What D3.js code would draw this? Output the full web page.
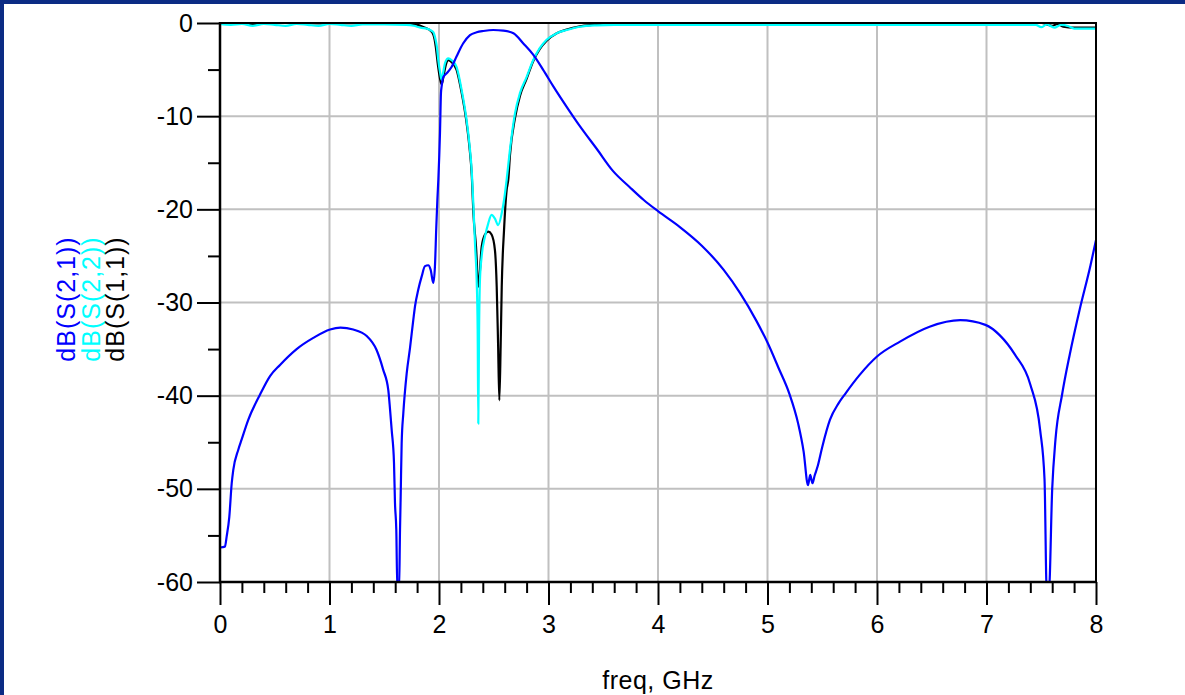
<!DOCTYPE html>
<html lang="en">
<head>
  <meta charset="UTF-8">
  <title>S-parameters</title>
  <script src="https://d3js.org/d3.v7.min.js"></script>
  <style>
    body { margin: 0; background: #fff; }
    text { font-family: "Liberation Sans", Arial, sans-serif; }
  </style>
</head>
<body>
<svg id="chart" width="1185" height="695"></svg>

<script>
// ---- data: [freq GHz, dB] ----
const s21 = [
  [0, -56.3], [0.045, -56.2], [0.061, -55.1], [0.085, -53], [0.107, -49.4], [0.121, -48],
  [0.167, -45.8], [0.198, -44.7], [0.258, -42.6], [0.365, -39.9], [0.457, -37.9], [0.548, -36.7],
  [0.70, -35.0], [0.852, -33.8], [1.005, -32.9], [1.1, -32.7], [1.217, -32.9], [1.34, -33.6],
  [1.43, -35.1], [1.49, -37.2], [1.537, -39.4], [1.553, -41.5], [1.568, -43.7], [1.589, -47.2],
  [1.598, -51.5], [1.61, -54.4], [1.62, -61], [1.635, -61], [1.644, -54.4], [1.65, -50.8],
  [1.659, -45.1], [1.674, -41.9], [1.705, -37.6], [1.735, -34.9], [1.765, -31.9], [1.781, -30.4],
  [1.811, -28.6], [1.842, -27.2], [1.872, -26.1], [1.902, -26], [1.924, -26.5], [1.948, -27.9],
  [1.963, -26.1], [1.975, -22], [1.985, -19], [1.994, -16.8], [2.009, -11.8], [2.018, -7.5],
  [2.024, -6.8], [2.04, -5.8], [2.07, -5.4], [2.116, -4.7], [2.16, -3.6], [2.22, -2.2],
  [2.283, -1.3], [2.344, -1.0], [2.405, -0.86], [2.496, -0.75], [2.587, -0.82], [2.68, -1.1],
  [2.77, -2.2], [2.86, -3.4], [2.95, -5.0], [3.044, -6.8], [3.166, -9.0], [3.288, -11.1],
  [3.44, -13.5], [3.59, -15.9], [3.74, -17.6], [3.87, -19.0], [4.0, -20.2], [4.2, -21.9],
  [4.4, -23.9], [4.6, -26.5], [4.75, -29.0], [4.9, -32.0], [5.0, -34.3], [5.1, -37.0], [5.2, -39.8],
  [5.28, -43.0], [5.33, -46.0], [5.37, -49.6], [5.39, -48.5], [5.41, -49.4], [5.43, -48.6],
  [5.46, -47.5], [5.5, -45.5], [5.57, -42.6], [5.65, -40.8], [5.71, -39.8], [5.84, -37.8],
  [6.0, -35.8], [6.21, -34.2], [6.48, -32.6], [6.76, -31.9], [6.99, -32.4], [7.12, -33.5],
  [7.26, -35.6], [7.4, -38.8], [7.49, -43.7], [7.53, -49], [7.55, -61], [7.57, -61],
  [7.6, -50], [7.63, -44.7], [7.69, -39.9], [7.76, -35.6], [7.85, -30.8], [7.95, -26], [8.0, -23.3]
];

const s22 = [
  [0, -0.1], [0.1, -0.2], [0.2, -0.1], [0.3, -0.3], [0.4, -0.1], [0.5, -0.2], [0.6, -0.3],
  [0.7, -0.1], [0.8, -0.2], [0.9, -0.3], [1.0, -0.1], [1.1, -0.2], [1.2, -0.3], [1.3, -0.15],
  [1.5, -0.15], [1.7, -0.2], [1.77, -0.3], [1.83, -0.5], [1.89, -0.6], [1.92, -0.75], [1.95, -1.0],
  [1.963, -1.5], [1.98, -2.5], [1.994, -4], [2.01, -5.3], [2.024, -6.1], [2.04, -5.2], [2.055, -4.3],
  [2.085, -3.8], [2.116, -4], [2.16, -4.7], [2.207, -7.2], [2.247, -10], [2.277, -12.9], [2.3, -16.1],
  [2.314, -19.5], [2.33, -24], [2.344, -27.6], [2.353, -32.9], [2.359, -43], [2.366, -33],
  [2.374, -27.6], [2.39, -25], [2.42, -22.9], [2.45, -21.5], [2.48, -20.6], [2.511, -21],
  [2.54, -21.7], [2.573, -20.4], [2.594, -19], [2.618, -16.8], [2.648, -13.6], [2.694, -9.7],
  [2.74, -7.5], [2.8, -5.8], [2.86, -4], [2.92, -2.7], [2.983, -1.8], [3.075, -1.1], [3.166, -0.75],
  [3.288, -0.4], [3.44, -0.25], [3.6, -0.2], [5.0, -0.2], [7.45, -0.2], [7.5, -0.45], [7.55, -0.15],
  [7.62, -0.5], [7.68, -0.2], [7.75, -0.35], [7.8, -0.6], [8.0, -0.6]
];

const s11 = [
  [0, 0], [0.3, -0.1], [0.6, 0], [1.0, -0.05], [1.5, 0], [1.77, -0.1], [1.83, -0.3], [1.89, -0.6],
  [1.92, -0.8], [1.95, -1.3], [1.97, -2.5], [1.99, -4.5], [2.01, -6], [2.025, -6.6], [2.04, -5.8],
  [2.06, -4.6], [2.085, -4.0], [2.116, -4.2], [2.16, -5], [2.207, -7.5], [2.247, -10.3],
  [2.277, -13.2], [2.3, -16.5], [2.314, -20.4], [2.338, -24], [2.36, -28.3], [2.39, -24],
  [2.42, -22.7], [2.45, -22.4], [2.48, -22.7], [2.511, -24.4], [2.527, -28.3], [2.54, -34.7],
  [2.551, -40.5], [2.563, -34.7], [2.573, -28.3], [2.594, -22.2], [2.618, -17.9], [2.633, -16.8],
  [2.648, -14.2], [2.694, -10.2], [2.74, -7.8], [2.8, -6.0], [2.86, -4.1], [2.92, -2.8],
  [2.983, -1.9], [3.075, -1.1], [3.166, -0.7], [3.288, -0.35], [3.44, -0.15], [3.53, 0],
  [7.5, 0], [7.6, -0.3], [7.65, -0.1], [7.7, -0.4], [7.8, -0.5], [8.0, -0.5]
];

const xTicks = [0, 1, 2, 3, 4, 5, 6, 7, 8];
const yTicks = [0, -10, -20, -30, -40, -50, -60];
const series = [
  { name: "dB(S(1,1))", data: s11, color: "#000000" },
  { name: "dB(S(2,2))", data: s22, color: "#00ffff" },
  { name: "dB(S(2,1))", data: s21, color: "#0000ff" }
];
const legendOrder = ["dB(S(2,1))", "dB(S(2,2))", "dB(S(1,1))"];

const svg = d3.select("#chart");
const plotL = 220, plotR = 1096, plotT = 23, plotB = 582;

const x = d3.scaleLinear().domain([0, 8]).range([plotL, plotR]);
const y = d3.scaleLinear().domain([-60, 0]).range([plotB, plotT]);

// outer window frame
svg.append("rect").attr("x", 0).attr("y", 0).attr("width", 1185).attr("height", 4).attr("fill", "#0b2b84");
svg.append("rect").attr("x", 0).attr("y", 0).attr("width", 4).attr("height", 695).attr("fill", "#0b2b84");

// grid
svg.append("g").selectAll("line").data(xTicks.slice(1, -1)).join("line")
  .attr("x1", d => x(d)).attr("x2", d => x(d)).attr("y1", plotT).attr("y2", plotB)
  .attr("stroke", "#c0c0c0").attr("stroke-width", 2);
svg.append("g").selectAll("line").data(yTicks.slice(1, -1)).join("line")
  .attr("x1", plotL).attr("x2", plotR).attr("y1", d => y(d)).attr("y2", d => y(d))
  .attr("stroke", "#c0c0c0").attr("stroke-width", 2);

// curves
const clip = svg.append("clipPath").attr("id", "plot-clip");
clip.append("rect").attr("x", plotL).attr("y", plotT - 2).attr("width", plotR - plotL).attr("height", plotB - plotT + 2);

const line = d3.line().x(d => x(d[0])).y(d => y(d[1])).curve(d3.curveMonotoneX);
svg.append("g").attr("clip-path", "url(#plot-clip)")
  .selectAll("path").data(series).join("path")
  .attr("d", d => line(d.data))
  .attr("fill", "none")
  .attr("stroke", d => d.color)
  .attr("stroke-width", 2.2)
  .attr("stroke-linejoin", "round");

// frame top/right
svg.append("path")
  .attr("d", `M${plotL},${plotT}H${plotR}V${plotB}`)
  .attr("fill", "none").attr("stroke", "#000").attr("stroke-width", 2);

// axes
const xAxis = svg.append("g").attr("transform", `translate(0,${plotB})`)
  .call(d3.axisBottom(x).tickValues(xTicks).tickSize(23).tickPadding(10).tickFormat(d3.format("d")));
const xMinor = svg.append("g").attr("transform", `translate(0,${plotB})`)
  .call(d3.axisBottom(x).tickValues(d3.range(0, 40).filter(i => i % 5 !== 0).map(i => i / 5)).tickSize(11).tickFormat(""));
const yAxis = svg.append("g").attr("transform", `translate(${plotL},0)`)
  .call(d3.axisLeft(y).tickValues(yTicks).tickSize(23).tickPadding(4).tickFormat(d => String(d)));
const yMinor = svg.append("g").attr("transform", `translate(${plotL},0)`)
  .call(d3.axisLeft(y).tickValues([-5, -15, -25, -35, -45, -55]).tickSize(12).tickFormat(""));

[xAxis, xMinor, yAxis, yMinor].forEach(a => {
  a.select(".domain").remove();
  a.selectAll(".tick line").attr("stroke", "#000").attr("stroke-width", 2);
  a.selectAll("text").attr("font-size", 25).attr("fill", "#000")
    .style("font-family", "'Liberation Sans', Arial, sans-serif");
});
xAxis.selectAll("text").attr("dy", "0.71em");

svg.append("line").attr("x1", plotL).attr("x2", plotL).attr("y1", plotT - 1).attr("y2", plotB + 1)
  .attr("stroke", "#000").attr("stroke-width", 2.5);
svg.append("line").attr("x1", plotL - 1).attr("x2", plotR + 1).attr("y1", plotB).attr("y2", plotB)
  .attr("stroke", "#000").attr("stroke-width", 2.5);

// axis labels
svg.append("text")
  .attr("x", (plotL + plotR) / 2)
  .attr("y", 689)
  .attr("text-anchor", "middle")
  .attr("font-size", 25)
  .attr("letter-spacing", 0.5)
  .text("freq, GHz");

const byName = Object.fromEntries(series.map(s => [s.name, s.color]));
legendOrder.forEach((name, i) => {
  svg.append("text")
    .attr("transform", `translate(${75 + i * 24.5},299) rotate(-90)`)
    .attr("text-anchor", "middle")
    .attr("font-size", 25)
    .attr("letter-spacing", 1)
    .attr("fill", byName[name])
    .text(name);
});
</script>
</body>
</html>
